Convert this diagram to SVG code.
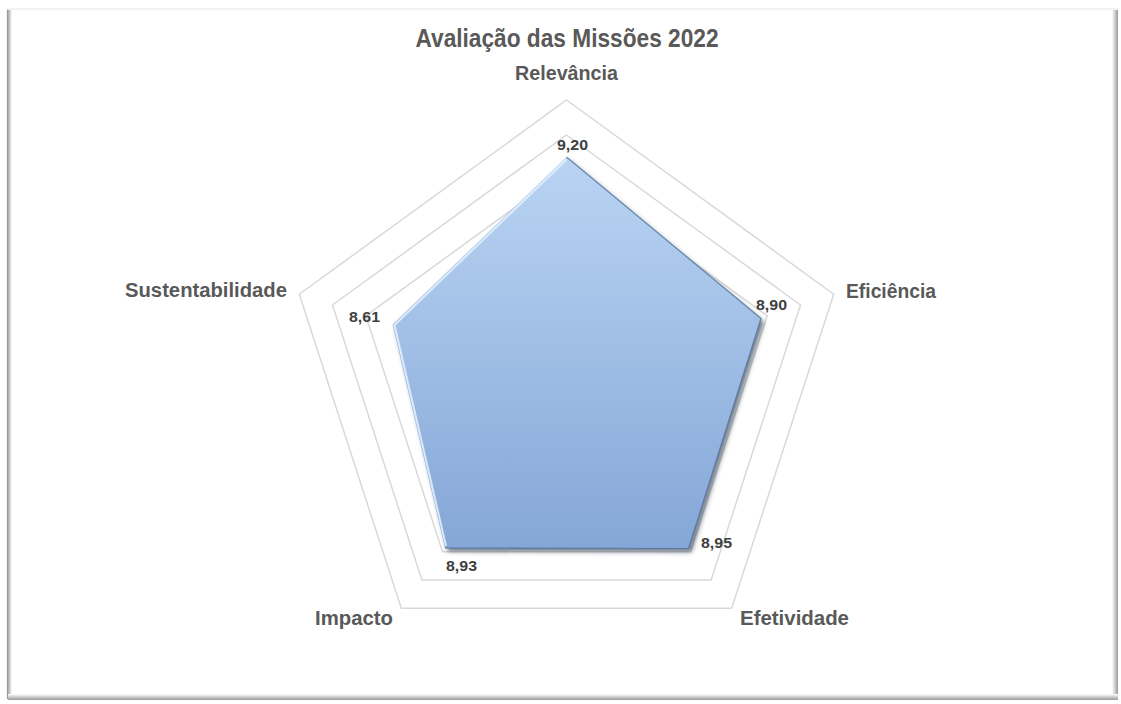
<svg xmlns="http://www.w3.org/2000/svg" width="1121" height="704" viewBox="0 0 1121 704">
  <defs>
    <style>
      .ring { fill: none; stroke: #d9d9d9; stroke-width: 1.5; stroke-linejoin: miter; }
      .title { font-family: "Liberation Sans", Arial, sans-serif; font-weight: bold; fill: #595959; font-size: 25px; text-anchor: middle; }
      .axis { font-family: "Liberation Sans", Arial, sans-serif; font-weight: bold; fill: #595959; font-size: 19.5px; }
      .val { font-family: "Liberation Sans", Arial, sans-serif; font-weight: bold; fill: #404040; font-size: 14.5px; }
    </style>
    <linearGradient id="fillGrad" x1="0" y1="0" x2="0" y2="1">
      <stop offset="0" stop-color="#b9d4f3"/>
      <stop offset="1" stop-color="#85a7d7"/>
    </linearGradient>
    <linearGradient id="leftShade" x1="0" y1="0" x2="1" y2="0">
      <stop offset="0" stop-color="#8f8f8f"/>
      <stop offset="1" stop-color="#ffffff"/>
    </linearGradient>
    <linearGradient id="rightShade" x1="0" y1="0" x2="1" y2="0">
      <stop offset="0" stop-color="#ffffff"/>
      <stop offset="1" stop-color="#9a9a9a"/>
    </linearGradient>
    <linearGradient id="bottomShade" x1="0" y1="0" x2="0" y2="1">
      <stop offset="0" stop-color="#ffffff"/>
      <stop offset="1" stop-color="#9a9a9a"/>
    </linearGradient>
    <filter id="shadow" x="-10%" y="-10%" width="130%" height="130%">
      <feDropShadow dx="3" dy="3.5" stdDeviation="2" flood-color="#25344a" flood-opacity="0.65"/>
    </filter>
  </defs>

  <rect x="0" y="0" width="1121" height="704" fill="#ffffff"/>

  <g id="frame">
    <rect x="7" y="9" width="1110" height="690" fill="#ffffff" stroke="#e6e6e6" stroke-width="1"/>
    <rect x="7" y="10" width="5" height="689" fill="url(#leftShade)"/>
    <rect x="1112" y="10" width="6" height="689" fill="url(#rightShade)"/>
    <rect x="8" y="694" width="1110" height="6" fill="url(#bottomShade)"/>
  </g>

  <g id="grid">
    <polygon class="ring" points="566.5,100 833.7,294.2 731.7,608.3 401.3,608.3 299.3,294.2"/>
    <polygon class="ring" points="566.5,135 800.5,305 711.1,580 421.9,580 332.5,305"/>
    <polygon class="ring" points="566.5,170 767.2,315.8 690.5,551.7 442.5,551.7 365.8,315.8"/>
  </g>

  <g id="series">
    <polygon points="566.5,157 761,318.5 688.5,548.5 445,548 392.5,324.5" fill="url(#fillGrad)" filter="url(#shadow)"/>
    <polyline points="446,546 394.5,325 566.5,159.5" fill="none" stroke="#e2eefb" stroke-width="2" opacity="0.9"/>
    <polyline points="566.5,157 761,318.5 688.5,548.5 445,548" fill="none" stroke="#4f6f9c" stroke-width="1.2" opacity="0.8"/>
  </g>

  <g id="title">
    <text class="title" x="567" y="47" textLength="303" lengthAdjust="spacingAndGlyphs">Avaliação das Missões 2022</text>
  </g>

  <g id="axis-labels">
    <text id="lbl-relevancia" class="axis" x="515" y="80" textLength="103" lengthAdjust="spacingAndGlyphs">Relevância</text>
    <text id="lbl-eficiencia" class="axis" x="846" y="298" textLength="90" lengthAdjust="spacingAndGlyphs">Eficiência</text>
    <text id="lbl-efetividade" class="axis" x="740" y="625" textLength="109" lengthAdjust="spacingAndGlyphs">Efetividade</text>
    <text id="lbl-impacto" class="axis" x="315" y="625" textLength="78" lengthAdjust="spacingAndGlyphs">Impacto</text>
    <text id="lbl-sustentabilidade" class="axis" x="125" y="297" textLength="162" lengthAdjust="spacingAndGlyphs">Sustentabilidade</text>
  </g>

  <g id="value-labels">
    <text class="val" x="557" y="150" textLength="31" lengthAdjust="spacingAndGlyphs">9,20</text>
    <text class="val" x="756" y="310" textLength="31" lengthAdjust="spacingAndGlyphs">8,90</text>
    <text class="val" x="701" y="548" textLength="31" lengthAdjust="spacingAndGlyphs">8,95</text>
    <text class="val" x="446" y="571" textLength="31" lengthAdjust="spacingAndGlyphs">8,93</text>
    <text class="val" x="349" y="322" textLength="31" lengthAdjust="spacingAndGlyphs">8,61</text>
  </g>
</svg>
